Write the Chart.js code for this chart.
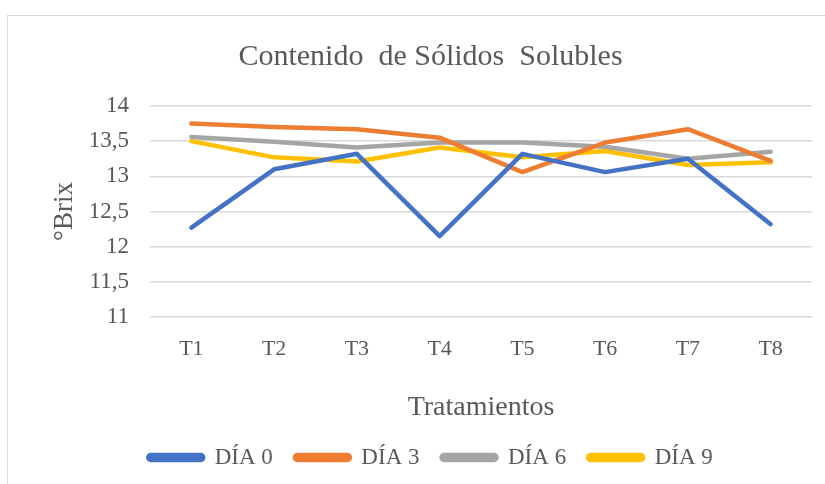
<!DOCTYPE html>
<html>
<head>
<meta charset="utf-8">
<script src="https://cdn.jsdelivr.net/npm/chart.js@4"></script>
<style>
  body { margin: 0; background: #fff; }
  #frame { position: absolute; left: 7px; top: 15px; width: 900px; height: 600px; border: 1.5px solid #d9d9d9; }
  #wrap { position: absolute; left: 0; top: 0; width: 825px; height: 484px; }
</style>
</head>
<body>
<div id="frame"></div>
<div id="wrap"><canvas id="brixChart" width="825" height="484"></canvas></div>
<script>
// ------------------ DATOS ------------------
const tratamientos = ['T1', 'T2', 'T3', 'T4', 'T5', 'T6', 'T7', 'T8'];
const dia0 = [12.27, 13.1, 13.32, 12.15, 13.32, 13.06, 13.25, 12.32];
const dia3 = [13.75, 13.7, 13.67, 13.55, 13.06, 13.48, 13.67, 13.22];
const dia6 = [13.56, 13.49, 13.41, 13.48, 13.48, 13.42, 13.25, 13.35];
const dia9 = [13.5, 13.27, 13.21, 13.41, 13.27, 13.36, 13.16, 13.2];
const nombresSeries = ['DÍA 0', 'DÍA 3', 'DÍA 6', 'DÍA 9'];
const coloresSeries = ['#4472C4', '#ED7D31', '#A5A5A5', '#FFC000'];

const fuente = '"Liberation Serif", "Times New Roman", serif';
const gris = '#595959';

const datasets = [dia0, dia3, dia6, dia9].map((valores, i) => ({
    label: nombresSeries[i],
    data: valores,
    borderColor: coloresSeries[i],
    backgroundColor: coloresSeries[i],
    borderWidth: 4.5,
    borderCapStyle: 'round',
    borderJoinStyle: 'round',
    borderRadius: 2.5,
    pointRadius: 0,
    tension: 0,
    fill: false
}));

const ctx = document.getElementById('brixChart').getContext('2d');
new Chart(ctx, {
    type: 'line',
    data: { labels: tratamientos, datasets: datasets },
    options: {
        responsive: false,
        animation: false,
        layout: { padding: { top: 39, right: 13, bottom: 5, left: 49 } },
        plugins: {
            title: {
                display: true,
                text: 'Contenido  de Sólidos  Solubles',
                color: gris,
                font: { family: fuente, size: 30, weight: 'normal' },
                padding: { top: 0, bottom: 31 }
            },
            legend: {
                position: 'bottom',
                labels: {
                    color: gris,
                    font: { family: fuente, size: 23 },
                    boxWidth: 55,
                    boxHeight: 5,
                    useBorderRadius: true,
                    borderRadius: 2.5,
                    padding: 22
                }
            },
            tooltip: { enabled: false }
        },
        scales: {
            x: {
                offset: true,
                grid: { display: false },
                border: { display: false },
                ticks: { color: gris, font: { family: fuente, size: 22 }, padding: 11, autoSkip: false, maxRotation: 0 },
                title: {
                    display: true,
                    text: 'Tratamientos',
                    color: gris,
                    font: { family: fuente, size: 28 },
                    padding: { top: 17, bottom: 0 }
                }
            },
            y: {
                min: 11,
                max: 14,
                grid: { color: '#d9d9d9', lineWidth: 1.5, drawTicks: false },
                border: { display: false },
                ticks: {
                    stepSize: 0.5,
                    autoSkip: false,
                    color: gris,
                    font: { family: fuente, size: 23 },
                    padding: 21,
                    callback: v => String(v).replace('.', ',')
                },
                title: {
                    display: true,
                    text: '°Brix',
                    color: gris,
                    font: { family: fuente, size: 27 },
                    padding: 0
                },
                afterFit: scale => { scale.width = 101; }
            }
        }
    }
});
</script>
</body>
</html>
